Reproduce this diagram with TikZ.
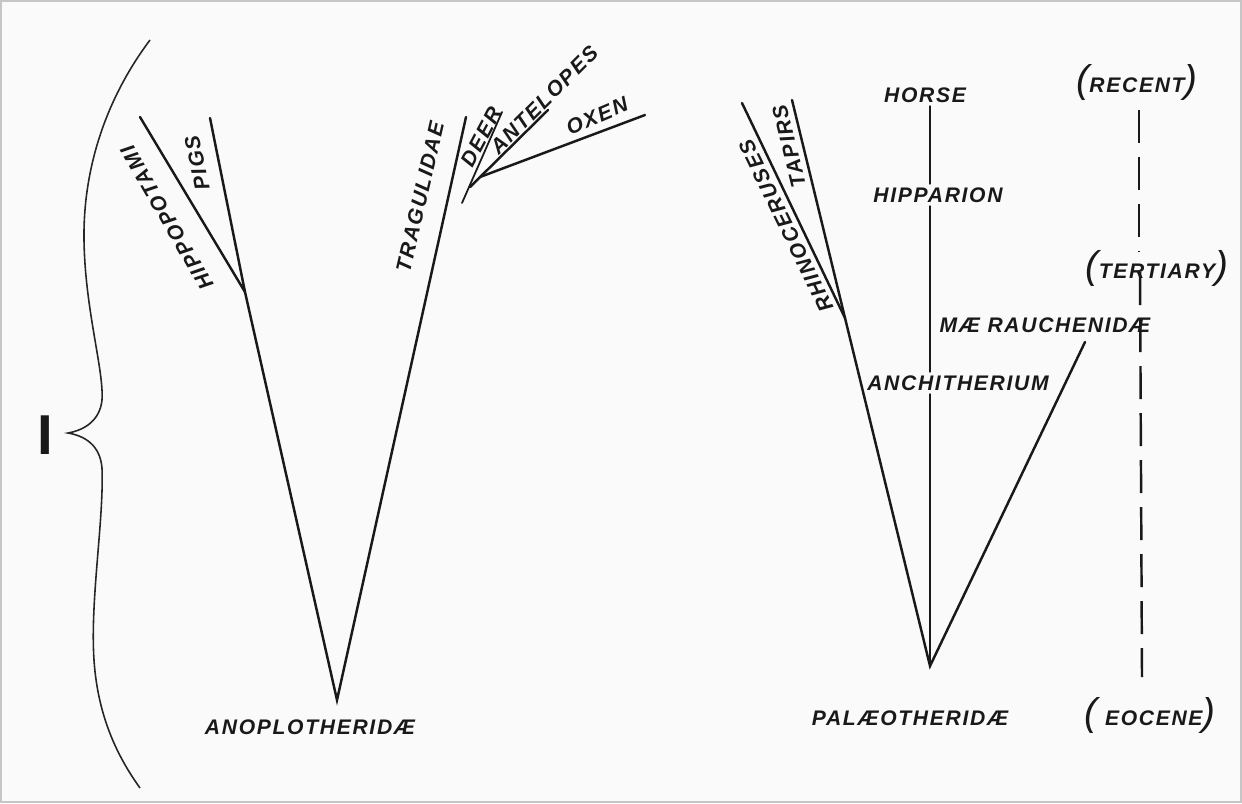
\documentclass[tikz,border=0pt]{standalone}
\usepackage{fontspec}
\setmainfont{Liberation Sans}
\newfontfamily\hand{Liberation Sans}[LetterSpace=8.0]

\begin{document}
\begin{tikzpicture}[x=0.2mm,y=-0.2mm,
    lbl/.style={font=\hand\bfseries\itshape\fontsize{12}{12}\selectfont, inner sep=2pt, text=black!90},
    branch/.style={line width=1.4pt, line cap=round, black!90},
    timeline/.style={line width=1.4pt, black!90, dash pattern=on 6.6mm off 2.8mm}]
      \useasboundingbox (0,0) rectangle (1242,803);
      \fill[white!98!black] (0,0) rectangle (1242,803);
      \draw[gray!45, line width=0.6pt] (1,1) rectangle (1241,802);

      % brace and numeral
      \draw[black!85, line width=0.9pt] (150,40) .. controls (105,100) and (83,170) .. (84,240)
            .. controls (85,310) and (104,370) .. (102,400) .. controls (100,420) and (85,430) .. (68,433)
            .. controls (85,436) and (100,445) .. (102,468) .. controls (104,520) and (90,600) .. (94,660)
            .. controls (98,720) and (120,760) .. (140,788);
      \node[font=\bfseries\fontsize{32}{32}\selectfont, text=black!90, inner sep=0pt] (roman) at (45,435) {I};

      % anoplotheridae
      \coordinate (anop) at (337,700); \coordinate (suid) at (245,292);
      \coordinate (hippo) at (140,117); \coordinate (pigs) at (210,118);
      \coordinate (trag) at (466,117);
      \coordinate (deerlow) at (462,203); \coordinate (deer) at (502,112);
      \coordinate (bov) at (470,187); \coordinate (antel) at (548,110);
      \coordinate (oxfork) at (480,177); \coordinate (oxen) at (645,115);
      \draw[branch] (hippo) -- (suid) -- (anop) -- (trag);
      \draw[branch] (pigs) -- (suid);
      \draw[branch, line width=1pt] (deerlow) -- (deer);
      \draw[branch] (bov) -- (antel);
      \draw[branch] (oxfork) -- (oxen);
      \node[lbl,rotate=120] (lhippo) at (167,218) {HIPPOPOTAMI};
      \node[lbl,rotate=102] (lpigs) at (197,163) {PIGS};
      \node[lbl,rotate=77] (ltrag) at (420,197) {TRAGULIDAE};
      \node[lbl,rotate=62] (ldeer) at (481,137) {DEER};
      \node[lbl,rotate=45] (lantel) at (544,100) {ANTELOPES};
      \node[lbl,rotate=23] (loxen) at (597,116) {OXEN};
      \node[lbl] (lanop) at (310,727) {ANOPLOTHERIDÆ};

      % palaeotheridae
      \coordinate (palaeo) at (930,666); \coordinate (rhfork) at (845,318);
      \coordinate (rhino) at (742,103); \coordinate (tapir) at (792,100);
      \coordinate (maer) at (1085,342);
      \draw[branch] (rhino) -- (rhfork) -- (palaeo) -- (maer);
      \draw[branch] (tapir) -- (rhfork);
      \node[lbl,rotate=116] (lrhino) at (786,226) {RHINOCERUSES};
      \node[lbl,rotate=104] (ltapir) at (789,146) {TAPIRS};
      \node[lbl] (lhorse) at (925,95) {HORSE};
      \node[lbl] (lhipp) at (938,195) {HIPPARION};
      \node[lbl] (lanchi) at (958,383) {ANCHITHERIUM};
      \node[lbl] (lmaer) at (1045,325) {MÆ RAUCHENIDÆ};
      \node[lbl] (lpal) at (910,718) {PALÆOTHERIDÆ};
      \draw[branch] (palaeo) -- (palaeo |- lanchi.south);
      \draw[branch] (palaeo |- lanchi.north) -- (palaeo |- lhipp.south);
      \draw[branch] (palaeo |- lhipp.north) -- (palaeo |- lhorse.south);

      % periods
      \node[lbl] (lrecent) at (1137,82) {{\mdseries\fontsize{22}{22}\selectfont(}RECENT{\mdseries\fontsize{22}{22}\selectfont)}};
      \node[lbl] (ltert) at (1157,268) {{\mdseries\fontsize{22}{22}\selectfont(}TERTIARY{\mdseries\fontsize{22}{22}\selectfont)}};
      \node[lbl] (leoc) at (1150,715) {{\mdseries\fontsize{22}{22}\selectfont(}\ EOCENE{\mdseries\fontsize{22}{22}\selectfont)}};
      \coordinate (tA) at (1139,110); \coordinate (tB) at (1139,252);
      \coordinate (tC) at (1140,272); \coordinate (tD) at (1142,677);
      \draw[timeline] (tA) -- (tB);
      \draw[timeline] (tC) -- (tD);
    \end{tikzpicture}
\end{document}
